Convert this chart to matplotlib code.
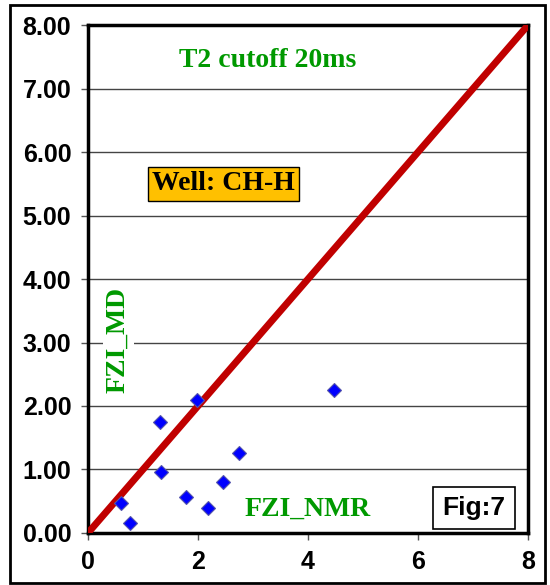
import matplotlib.pyplot as plt
from matplotlib.patches import Rectangle

# FZI from NMR (x) vs FZI from MD (y)
fzi_nmr = [0.60, 0.77, 1.30, 1.33, 1.78, 1.98, 2.19, 2.45, 2.75, 4.48]
fzi_md = [0.47, 0.15, 1.75, 0.96, 0.56, 2.09, 0.39, 0.80, 1.26, 2.25]
line_x = [0, 8]
line_y = [0, 8]
x_ticks = [0, 2, 4, 6, 8]
y_ticks = [0, 1, 2, 3, 4, 5, 6, 7, 8]

green = '#009900'
serif = 'Liberation Serif'
sans = 'Liberation Sans'

fig = plt.figure(figsize=(5.5, 5.85), dpi=100)
ax = fig.add_axes([0.16, 0.089, 0.80, 0.868])

# outer frame around the whole figure
fig.patches.append(Rectangle((0.018, 0.004), 0.972, 0.988, transform=fig.transFigure,
                             fill=False, edgecolor='black', linewidth=2.0))

ax.set_xlim(0, 8)
ax.set_ylim(0, 8)
ax.set_xticks(x_ticks)
ax.set_yticks(y_ticks)
ax.set_yticklabels([f'{v:.2f}' for v in y_ticks])
for lab in ax.get_xticklabels() + ax.get_yticklabels():
    lab.set_fontfamily(sans)
    lab.set_fontweight('bold')
    lab.set_fontsize(18)
ax.tick_params(direction='out', length=5, width=1, color='#555555', pad=7)
ax.grid(axis='y', color='#444444', linewidth=1.0)
ax.set_axisbelow(True)
for sp in ax.spines.values():
    sp.set_linewidth(2.5)
    sp.set_color('black')

ax.plot(line_x, line_y, color='#C00000', linewidth=5, solid_capstyle='butt', zorder=3)
ax.plot(fzi_nmr, fzi_md, linestyle='none', marker='D', markersize=7.5,
        markerfacecolor='#0000FF', markeredgecolor='#5555AA', markeredgewidth=0.8, zorder=4)

ax.text(3.27, 7.45, 'T2 cutoff 20ms', color=green, fontfamily=serif, fontweight='bold',
        fontsize=20, ha='center', va='center')
ax.text(2.47, 5.5, 'Well: CH-H', color='black', fontfamily=serif, fontweight='bold',
        fontsize=20, ha='center', va='center',
        bbox=dict(boxstyle='square,pad=0.15', facecolor='#FFC000', edgecolor='black', linewidth=1))
ax.text(0.55, 3.04, 'FZI_MD', color=green, fontfamily=serif, fontweight='bold',
        fontsize=20, ha='center', va='center', rotation=90,
        bbox=dict(boxstyle='square,pad=0.1', facecolor='white', edgecolor='none'))
ax.text(4.0, 0.38, 'FZI_NMR', color=green, fontfamily=serif, fontweight='bold',
        fontsize=20, ha='center', va='center')
ax.text(7.02, 0.39, 'Fig:7', color='black', fontfamily=sans, fontweight='bold',
        fontsize=19, ha='center', va='center',
        bbox=dict(boxstyle='square,pad=0.35', facecolor='white', edgecolor='black', linewidth=1.2))

fig.savefig('out.png', dpi=100)
